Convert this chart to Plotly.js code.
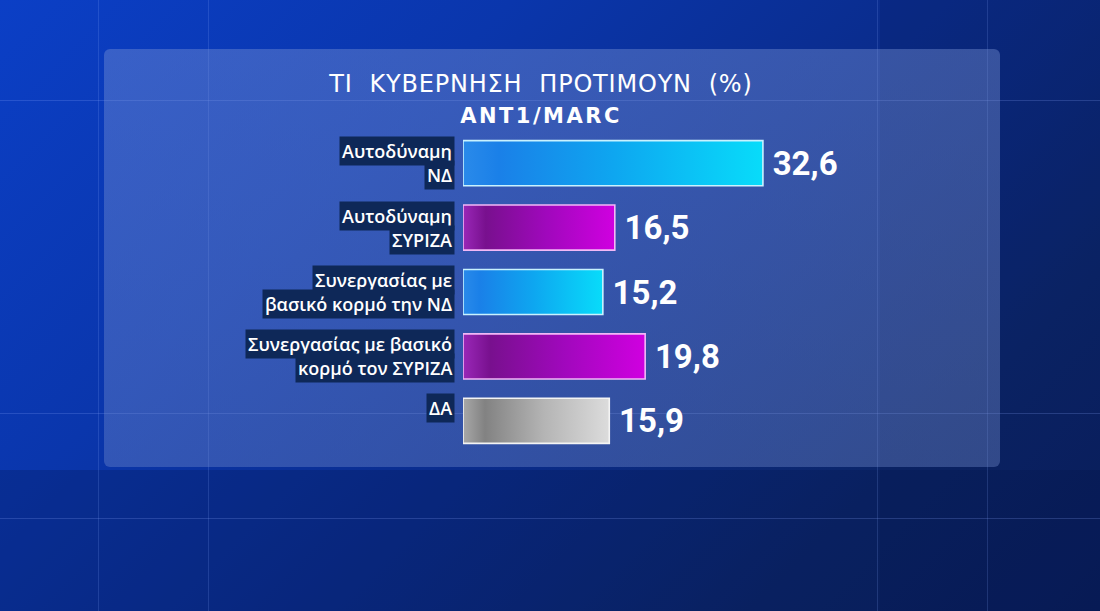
<!DOCTYPE html>
<html>
<head>
<meta charset="utf-8">
<script src="https://cdn.plot.ly/plotly-3.0.1.min.js"></script>
<style>
  html, body { margin:0; padding:0; width:1100px; height:611px; overflow:hidden; }
  body {
    background:
      linear-gradient(135deg, #0b3fc6 0%, #0a36ac 30%, #0a2c8c 55%, #0b2568 80%, #0a1f5c 100%);
    position: relative;
    font-family: Roboto, "Open Sans", sans-serif;
  }
  .hline { position:absolute; left:0; width:1100px; height:1px; background:rgba(140,170,255,0.22); }
  .vline { position:absolute; top:0; height:611px; width:1px; background:rgba(140,170,255,0.18); }
  .blk { position:absolute; background:rgba(5,20,70,0.25); }
  #panel {
    position:absolute; left:104px; top:49px; width:896px; height:418px;
    border-radius:6px;
    background: linear-gradient(180deg, rgba(125,150,215,0.40) 0%, rgba(115,140,205,0.38) 100%);
  }
  #chart { position:absolute; left:0; top:0; width:1100px; height:611px; }
  #chart .gtitle { letter-spacing: 0.8px; }
  #chart .trace.bars .point:nth-child(1) path { fill: url(#gBlue) #14a8f2 !important; }
  #chart .trace.bars .point:nth-child(2) path { fill: url(#gPurple) #a010c0 !important; }
  #chart .trace.bars .point:nth-child(3) path { fill: url(#gBlue) #14a8f2 !important; }
  #chart .trace.bars .point:nth-child(4) path { fill: url(#gPurple) #a010c0 !important; }
  #chart .trace.bars .point:nth-child(5) path { fill: url(#gGray) #b0b0b0 !important; }
</style>
</head>
<body>
<svg width="0" height="0" style="position:absolute">
  <defs>
    <linearGradient id="gBlue" x1="0" y1="0" x2="1" y2="0">
      <stop offset="0" stop-color="#2a8aea"/>
      <stop offset="0.12" stop-color="#1a80e8"/>
      <stop offset="0.5" stop-color="#0ea6f0"/>
      <stop offset="1" stop-color="#08dcfa"/>
    </linearGradient>
    <linearGradient id="gPurple" x1="0" y1="0" x2="1" y2="0">
      <stop offset="0" stop-color="#9a28b8"/>
      <stop offset="0.15" stop-color="#78108e"/>
      <stop offset="0.55" stop-color="#a008bc"/>
      <stop offset="1" stop-color="#d000e0"/>
    </linearGradient>
    <linearGradient id="gGray" x1="0" y1="0" x2="1" y2="0">
      <stop offset="0" stop-color="#a8a8a8"/>
      <stop offset="0.15" stop-color="#828282"/>
      <stop offset="0.55" stop-color="#b4b4b4"/>
      <stop offset="1" stop-color="#dcdcdc"/>
    </linearGradient>
  </defs>
</svg>
<div class="blk" style="left:0;top:470px;width:1100px;height:141px;"></div>
<div class="blk" style="left:880px;top:0;width:220px;height:611px;background:rgba(5,20,80,0.18)"></div>
<div class="hline" style="top:100px"></div>
<div class="hline" style="top:413px"></div>
<div class="hline" style="top:518px"></div>
<div class="vline" style="left:98px"></div>
<div class="vline" style="left:208px"></div>
<div class="vline" style="left:877px"></div>
<div class="vline" style="left:987px"></div>
<div id="panel"></div>
<div id="chart"></div>
<script>
// ---- data ----
const categories = [
  "Αυτοδύναμη ΝΔ",
  "Αυτοδύναμη ΣΥΡΙΖΑ",
  "Συνεργασίας με βασικό κορμό την ΝΔ",
  "Συνεργασίας με βασικό κορμό τον ΣΥΡΙΖΑ",
  "ΔΑ"
];
const labelLine1 = ["Αυτοδύναμη", "Αυτοδύναμη", "Συνεργασίας με", "Συνεργασίας με βασικό", "ΔΑ"];
const labelLine2 = ["ΝΔ", "ΣΥΡΙΖΑ", "βασικό κορμό την ΝΔ", "κορμό τον ΣΥΡΙΖΑ", ""];
const values = [32.6, 16.5, 15.2, 19.8, 15.9];
const borderColors = ["#c8f2ff", "#f2b8f6", "#c8f2ff", "#f2b8f6", "#f4f4f4"];
const fillColors = ["#14a8f2", "#a010c0", "#14a8f2", "#a010c0", "#b0b0b0"];
const titleText = "ΤΙ\u00a0\u00a0ΚΥΒΕΡΝΗΣΗ\u00a0\u00a0ΠΡΟΤΙΜΟΥΝ\u00a0\u00a0(%)";
const subtitleText = "ANT1/MARC";

// ---- chart ----
const trace = {
  type: "bar",
  orientation: "h",
  y: categories,
  x: values,
  width: 0.7,
  marker: { color: fillColors, line: { color: borderColors, width: 1.6 } },
  texttemplate: "\u2009%{x:.1f}",
  textposition: "outside",
  cliponaxis: false,
  textfont: { family: "Roboto, sans-serif", size: 33, color: "#ffffff", weight: 700 },
  hoverinfo: "none"
};

const annotations = [];
const labelFont = { family: "Open Sans, sans-serif", size: 18, color: "#ffffff", weight: 600 };
categories.forEach((c, i) => {
  annotations.push({
    xref: "paper", yref: "y", x: 0, y: c, xanchor: "right", yanchor: "middle",
    xshift: -8, yshift: labelLine2[i] ? 12 : 13, text: labelLine1[i], showarrow: false,
    bgcolor: "#0e2858", borderpad: 2, font: labelFont, align: "right"
  });
  if (labelLine2[i]) {
    annotations.push({
      xref: "paper", yref: "y", x: 0, y: c, xanchor: "right", yanchor: "middle",
      xshift: -8, yshift: -12, text: labelLine2[i], showarrow: false,
      bgcolor: "#0e2858", borderpad: 2, font: labelFont, align: "right"
    });
  }
});

const layout = {
  width: 1100, height: 611,
  paper_bgcolor: "rgba(0,0,0,0)", plot_bgcolor: "rgba(0,0,0,0)",
  margin: { l: 463, r: 100, t: 131, b: 158 },
  separators: ",.",
  showlegend: false,
  title: {
    text: titleText + "<br><span style='font-family:DejaVu Sans;font-size:21px;font-weight:bold;letter-spacing:2.5px'>" + subtitleText + "</span>",
    font: { family: "DejaVu Sans, sans-serif", size: 24, color: "#ffffff", weight: 400 },
    x: 541 / 1100, xanchor: "center", xref: "container",
    y: 1 - 92 / 611, yanchor: "top", yref: "container"
  },
  xaxis: { range: [0, 58.37], visible: false, fixedrange: true },
  yaxis: { autorange: "reversed", showticklabels: false, showgrid: false, zeroline: false, fixedrange: true },
  annotations: annotations,
  bargap: 0.3
};

Plotly.newPlot("chart", [trace], layout, { displayModeBar: false, staticPlot: true });
</script>
</body>
</html>
